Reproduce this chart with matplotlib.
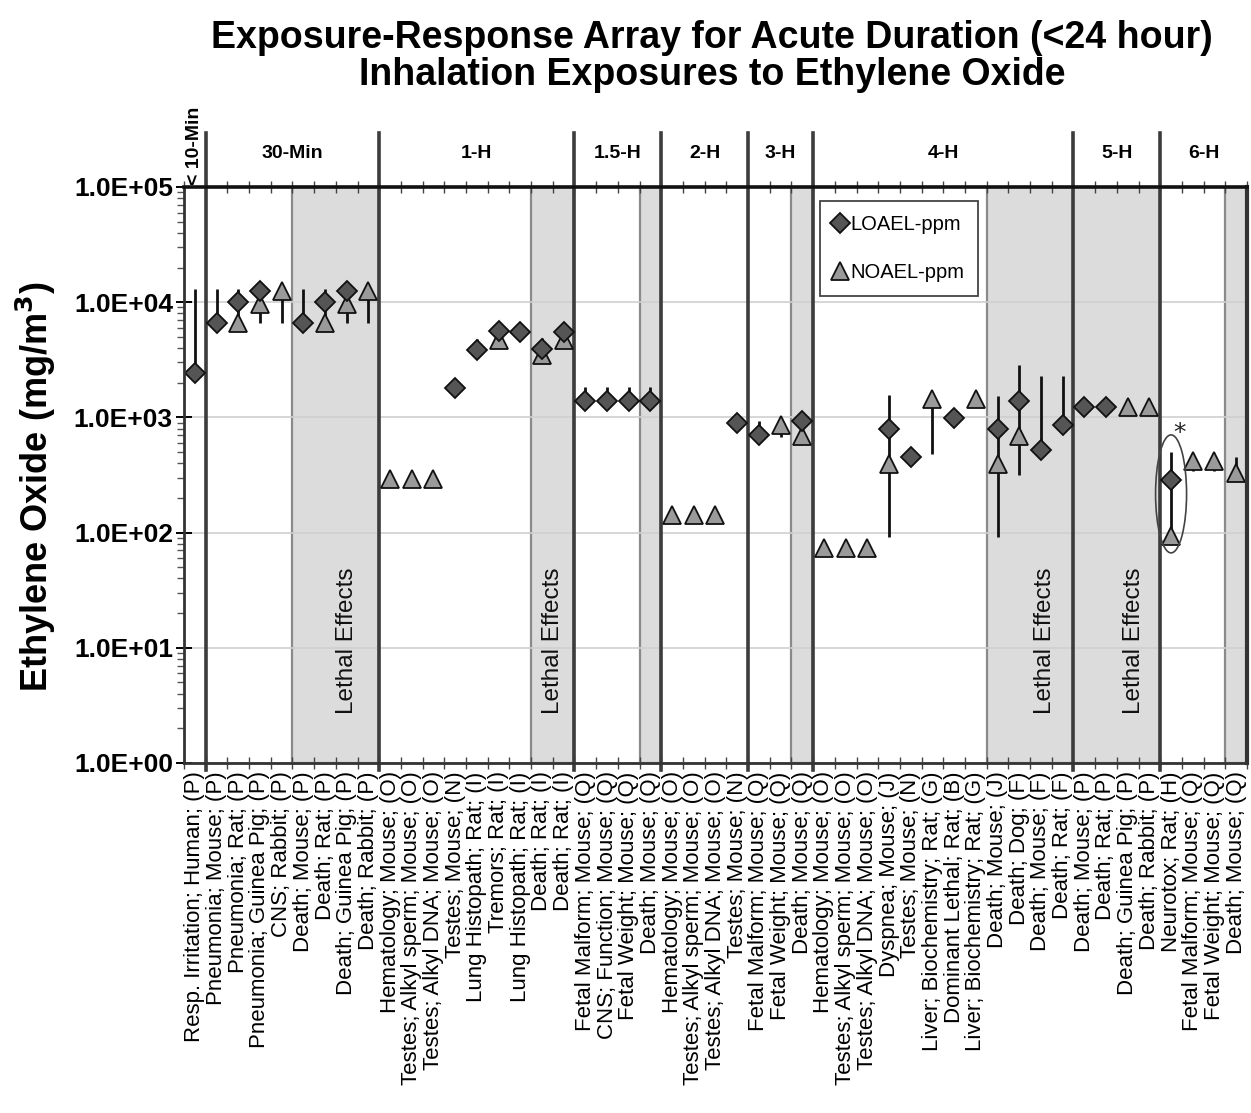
import numpy as np
import matplotlib
matplotlib.use("Agg")
import matplotlib.pyplot as plt
from matplotlib.patches import Ellipse
from matplotlib.ticker import FixedLocator, FuncFormatter, LogLocator, NullFormatter
from matplotlib.lines import Line2D

nan = np.nan

# ── exposure durations and how many endpoints sit under each ─────────────────
durations = ["< 10-Min", "30-Min", "1-H", "1.5-H", "2-H", "3-H", "4-H", "5-H", "6-H"]
group_sizes = [1, 8, 9, 4, 4, 3, 12, 4, 4]

endpoints = [
    "Resp. Irritation; Human; (P)",
    "Pneumonia; Mouse; (P)", "Pneumonia; Rat; (P)", "Pneumonia; Guinea Pig; (P)",
    "CNS; Rabbit; (P)", "Death; Mouse; (P)", "Death; Rat; (P)",
    "Death; Guinea Pig; (P)", "Death; Rabbit; (P)",
    "Hematology; Mouse; (O)", "Testes; Alkyl sperm; Mouse; (O)",
    "Testes; Alkyl DNA; Mouse; (O)", "Testes; Mouse; (N)",
    "Lung Histopath; Rat; (I)", "Tremors; Rat; (I)", "Lung Histopath; Rat; (I)",
    "Death; Rat; (I)", "Death; Rat; (I)",
    "Fetal Malform; Mouse; (Q)", "CNS; Function; Mouse; (Q)",
    "Fetal Weight; Mouse; (Q)", "Death; Mouse; (Q)",
    "Hematology; Mouse; (O)", "Testes; Alkyl sperm; Mouse; (O)",
    "Testes; Alkyl DNA; Mouse; (O)", "Testes; Mouse; (N)",
    "Fetal Malform; Mouse; (Q)", "Fetal Weight; Mouse; (Q)", "Death; Mouse; (Q)",
    "Hematology; Mouse; (O)", "Testes; Alkyl sperm; Mouse; (O)",
    "Testes; Alkyl DNA; Mouse; (O)", "Dyspnea; Mouse; (J)", "Testes; Mouse; (N)",
    "Liver; Biochemistry; Rat; (G)", "Dominant Lethal; Rat; (B)",
    "Liver; Biochemistry; Rat; (G)", "Death; Mouse; (J)", "Death; Dog; (F)",
    "Death; Mouse; (F)", "Death; Rat; (F)",
    "Death; Mouse; (P)", "Death; Rat; (P)", "Death; Guinea Pig; (P)",
    "Death; Rabbit; (P)",
    "Neurotox; Rat; (H)", "Fetal Malform; Mouse; (Q)",
    "Fetal Weight; Mouse; (Q)", "Death; Mouse; (Q)",
]

loael = [2450, 6600, 10000, 12600, nan, 6600, 10000, 12600, nan,
         nan, nan, nan, 1790, 3830, 5600, 5490, 3900, 5490,
         1380, 1380, 1380, 1380,
         nan, nan, nan, 888,
         707, nan, 922,
         nan, nan, nan, 800, 449, nan, 980, nan, 800, 1380, 522, 863,
         1220, 1220, nan, nan,
         289, nan, nan, nan]

noael = [nan, nan, 6600, 9700, 12500, nan, 6600, 9700, 12500,
         290, 290, 290, nan, nan, 4680, nan, 3460, 4680,
         nan, nan, nan, nan,
         143, 143, 143, nan,
         nan, 863, 684,
         73, 73, 73, 393, nan, 1440, nan, 1440, 393, 692, nan, nan,
         nan, nan, 1220, 1220,
         94, 417, 417, 326]

# vertical bars: low / high end of the reported range
range_lo = [2450, 6600, 6600, 6600, 6600, 6600, 6600, 6600, 6600,
            nan, nan, nan, nan, 3830, 4680, nan, 3460, 4680,
            1380, 1380, 1380, 1380,
            nan, nan, nan, nan,
            707, 675, nan,
            nan, nan, nan, 92, nan, 480, nan, nan, 92, 317, 522, 863,
            nan, nan, nan, nan,
            94, 341, 341, 326]
range_hi = [12900, 12900, 12900, 12600, 12500, 12900, 12900, 12600, 12500,
            nan, nan, nan, nan, 4770, 6370, nan, 4870, 6370,
            1820, 1820, 1820, 1820,
            nan, nan, nan, nan,
            922, 863, nan,
            nan, nan, nan, 1550, nan, 1440, nan, nan, 1540, 2870, 2300, 2300,
            nan, nan, nan, nan,
            500, 417, 417, 449]

lethal_text_x = [8.0, 17.5, 40.2, 44.3]
flagged = 46   # neurotox point that gets the ellipse + asterisk

x = np.arange(1, len(endpoints) + 1)
n = len(endpoints)
bounds = np.cumsum(group_sizes) + 0.5

fig = plt.figure(figsize=(12.51, 11.13), dpi=100)
ax = fig.add_axes([184 / 1251, 1 - 763 / 1113, 1063 / 1251, 576 / 1113])
ax.set_yscale("log")
ax.set_xlim(0.5, n + 0.5)
ax.set_ylim(1, 1e5)

# grey bands behind every lethal endpoint
dead = [lab.startswith("Death") for lab in endpoints]
i = 0
while i < n:
    if dead[i]:
        j = i
        while j + 1 < n and dead[j + 1]:
            j += 1
        ax.axvspan(x[i] - 0.5, x[j] + 0.5, facecolor="#dcdcdc",
                   edgecolor="#8a8a8a", lw=1.6, zorder=0)
        i = j + 1
    else:
        i += 1

for tx in lethal_text_x:
    ax.text(tx, 11.5, "Lethal Effects", rotation=90, ha="center", va="center",
            fontsize=17.5, family="Liberation Sans", color="#111", zorder=1)

ax.yaxis.grid(True, which="major", color="#cfcfcf", lw=1.2, zorder=0.5)

# duration separators, running up past the frame into the header strip
for b in bounds[:-1]:
    ax.plot([b, b], [-0.012, 1.094], color="#3c3c3c", lw=2.6,
            transform=ax.get_xaxis_transform(), clip_on=False, zorder=3)

starts = np.concatenate([[0.5], bounds[:-1]])
for d, s, e in zip(durations, starts, bounds):
    if d.startswith("<"):
        ax.text((s + e) / 2, 1.004, d, rotation=90, ha="center", va="bottom",
                fontsize=14, fontweight="bold", family="Liberation Sans",
                transform=ax.get_xaxis_transform())
    else:
        ax.text((s + e) / 2, 1.058, d, ha="center", va="center",
                fontsize=14, fontweight="bold", family="Liberation Sans",
                transform=ax.get_xaxis_transform())

# range bars, then NOAEL triangles, then LOAEL diamonds on top
ax.vlines(x, range_lo, range_hi, color="#111", lw=2.0, zorder=4)
ax.plot(x, noael, ls="none", marker="^", ms=13, mfc="#9a9a9a", mec="#111",
        mew=1.3, zorder=5)
ax.plot(x, loael, ls="none", marker="D", ms=10.5, mfc="#555555", mec="#111",
        mew=1.3, zorder=6)

# ellipse + asterisk around the neurotox endpoint
k = flagged - 1
lo, hi = np.log10(range_lo[k]), np.log10(range_hi[k])
cy = ((lo + hi) / 2) / 5
ax.add_patch(Ellipse(((x[k] - 0.5) / n, cy), 31 / 1063, 118 / 576,
                     transform=ax.transAxes, fill=False, ec="#444", lw=1.2,
                     zorder=7))
ax.text(x[k] + 0.4, range_hi[k] * 1.15, "*", ha="center", va="bottom",
        fontsize=18, color="#222", zorder=7)

# axes, ticks and labels
ax.xaxis.set_major_locator(FixedLocator(x))
ax.set_xticklabels(endpoints, rotation=90, fontsize=16,
                   family="Liberation Sans", va="top")
ax.xaxis.set_minor_locator(FixedLocator(np.arange(0.5, n + 1)))
ax.tick_params(axis="x", which="major", length=0, pad=6)
ax.tick_params(axis="x", which="minor", length=8, direction="inout",
               top=True, width=1.0, color="#444")

ax.yaxis.set_major_locator(LogLocator(base=10, numticks=10))
ax.yaxis.set_minor_locator(LogLocator(base=10, subs=np.arange(2, 10), numticks=10))
ax.yaxis.set_minor_formatter(NullFormatter())
ax.yaxis.set_major_formatter(FuncFormatter(lambda v, p: f"{v:.1E}"))
ax.tick_params(axis="y", which="major", length=12, width=1.4,
               direction="inout", labelsize=19, pad=2)
ax.tick_params(axis="y", which="minor", length=5, width=1.0, direction="out",
               color="#555")
for t in ax.get_yticklabels():
    t.set_fontweight("bold")
    t.set_family("Liberation Sans")

for side, w, c in [("left", 2.0, "#333"), ("bottom", 2.0, "#333"),
                   ("top", 2.6, "#111"), ("right", 3.0, "#333")]:
    ax.spines[side].set_linewidth(w)
    ax.spines[side].set_color(c)
    ax.spines[side].set_zorder(8)

ax.set_ylabel("Ethylene Oxide (mg/m$^\\mathbf{3}$)", fontsize=26,
              fontweight="bold", family="Liberation Sans")
ax.yaxis.set_label_coords(-0.119, 0.479)

handles = [
    Line2D([], [], ls="none", marker="D", ms=10.5, mfc="#555555", mec="#111",
           mew=1.3, label="LOAEL-ppm"),
    Line2D([], [], ls="none", marker="^", ms=13, mfc="#9a9a9a", mec="#111",
           mew=1.3, label="NOAEL-ppm"),
]
leg = ax.legend(handles=handles, loc="upper left",
                bbox_to_anchor=(0.598, 0.975), borderaxespad=0,
                frameon=True, fancybox=False,
                edgecolor="#444", framealpha=1, handlelength=0.6,
                handletextpad=0.2, labelspacing=1.4, borderpad=0.7,
                prop={"family": "Liberation Sans", "size": 14.5})
leg.get_frame().set_linewidth(1.3)
leg.set_zorder(9)

fig.text(0.569, 1 - 20 / 1113,
         "Exposure-Response Array for Acute Duration (<24 hour)\n"
         "Inhalation Exposures to Ethylene Oxide",
         ha="center", va="top", fontsize=27, fontweight="bold",
         family=["Liberation Sans Narrow", "Liberation Sans"],
         linespacing=1.05)

fig.savefig("out.png", dpi=100)
